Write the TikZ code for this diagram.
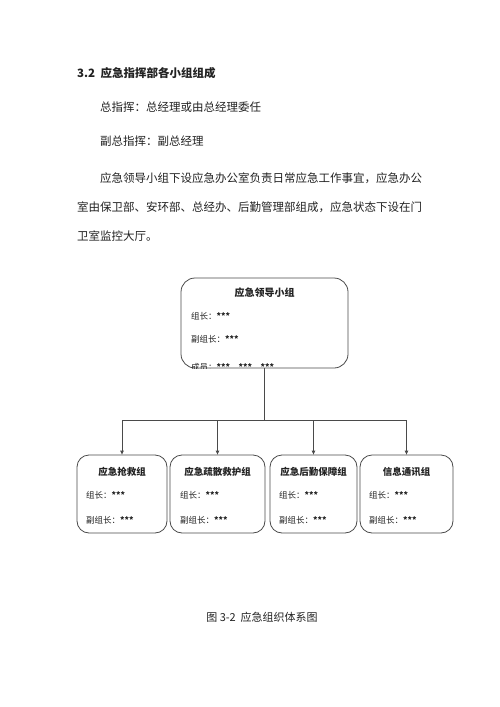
\documentclass[tikz,border=0pt]{standalone}
\usepackage{fontspec}
\setmainfont{Noto Sans CJK SC}
\usetikzlibrary{arrows.meta, positioning}
\definecolor{linegray}{HTML}{4A4A4A}
\definecolor{textgray}{HTML}{222222}
\newcommand{\stars}{\textbf{***}}

\begin{document}
\begin{tikzpicture}[x=1pt, y=-1pt,
    box/.style={draw=linegray, rounded corners=#1, line width=0.8pt, inner sep=0pt},
    body/.style={anchor=west, inner sep=0pt, text=textgray, font=\fontsize{11.5}{14}\selectfont},
    title/.style={inner sep=0pt, text=textgray, font=\fontsize{9.5}{12}\selectfont\bfseries},
    item/.style={anchor=west, inner sep=0pt, text=textgray, font=\fontsize{8.5}{10}\selectfont},
    conn/.style={draw=linegray, line width=0.8pt},
    arrow/.style={conn, -{Triangle[length=4pt, width=3.5pt]}}
]
\fill[white] (0,0) rectangle (500,707);
\useasboundingbox (0,0) rectangle (500,707);

% text above the chart
\node[body, font=\fontsize{11.5}{14}\selectfont\bfseries] (head) at (77,73) {3.2\ \ 应急指挥部各小组组成};
\node[body] (chief) at (100,107) {总指挥：总经理或由总经理委任};
\node[body] (vice) at (100,141) {副总指挥：副总经理};
\node[body] (par1) at (100,178) {应急领导小组下设应急办公室负责日常应急工作事宜，应急办公};
\node[body] (par2) at (77,207) {室由保卫部、安环部、总经办、后勤管理部组成，应急状态下设在门};
\node[body] (par3) at (77,236) {卫室监控大厅。};

% leading group
\node[box=14pt, minimum width=167pt, minimum height=90pt] (lead) at (264.5,323) {};
\node[title, font=\fontsize{10}{12}\selectfont\bfseries] (leadt) at (264.5,293) {应急领导小组};
\node[item] (leadc) at (191,316) {组长：\stars};
\node[item] (leadv) at (191,339) {副组长：\stars};
\begin{scope}
\clip[rounded corners=14pt] (lead.north west) rectangle (lead.south east);
\node[item] (leadm) at (191,367) {成员：\stars\quad \stars\quad \stars};
\end{scope}

% sub groups
\node[box=12pt, minimum width=90pt, minimum height=78pt] (rescue) at (122,494) {};
\node[box=12pt, minimum width=95pt, minimum height=78pt] (evac) at (217.5,494) {};
\node[box=12pt, minimum width=87pt, minimum height=78pt] (logi) at (313.5,494) {};
\node[box=12pt, minimum width=93pt, minimum height=78pt] (comm) at (406.5,494) {};

\node[title] (rescuet) at (122,472) {应急抢救组};
\node[title] (evact) at (217.5,472) {应急疏散救护组};
\node[title] (logit) at (313.5,472) {应急后勤保障组};
\node[title] (commt) at (406.5,472) {信息通讯组};

\node[item] (rescuec) at (86,495) {组长：\stars};
\node[item] (rescuev) at (86,520) {副组长：\stars};
\node[item] (evacc) at (180,495) {组长：\stars};
\node[item] (evacv) at (180,520) {副组长：\stars};
\node[item] (logic) at (279,495) {组长：\stars};
\node[item] (logiv) at (279,520) {副组长：\stars};
\node[item] (commc) at (369,495) {组长：\stars};
\node[item] (commv) at (369,520) {副组长：\stars};

% connectors
\coordinate (bar) at (264.5,420);
\draw[conn] (lead.south) -- (bar);
\foreach \g in {rescue, evac, logi, comm}
    \draw[arrow] (bar) -| (\g.north);

% caption
\node[inner sep=0pt, text=textgray, font=\fontsize{11}{13}\selectfont] (cap) at (262,617) {图 3-2\ \ 应急组织体系图};
\end{tikzpicture}
\end{document}
